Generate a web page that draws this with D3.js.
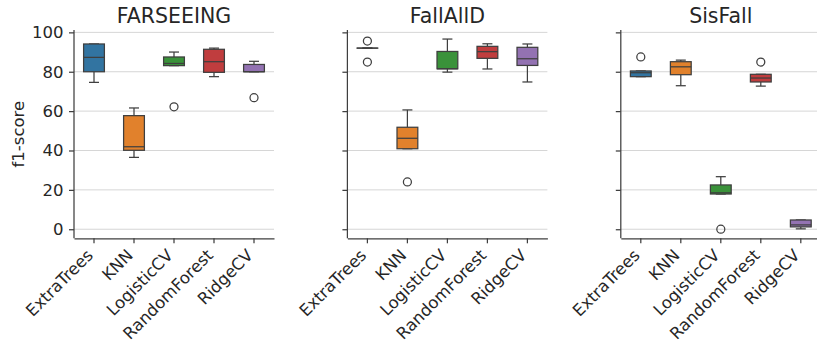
<!DOCTYPE html>
<html>
<head>
<meta charset="utf-8">
<script src="https://cdn.jsdelivr.net/npm/d3@7"></script>
<style>
  body { margin: 0; background: #fff; }
  svg { display: block; font-family: "DejaVu Sans", sans-serif; }
</style>
</head>
<body>
<svg id="chart"></svg>
<script>
// Chart size
const width = 817;
const height = 349;

// Data: per dataset, per model [whiskerLow, q1, median, q3, whiskerHigh]
const datasets = ["FARSEEING", "FallAllD", "SisFall"];
const models = ["ExtraTrees", "KNN", "LogisticCV", "RandomForest", "RidgeCV"];
const yTicks = [0, 20, 40, 60, 80, 100];

const farseeingStats = [
  [74.6, 80.0, 87.3, 94.1, 94.1],
  [36.5, 40.1, 41.9, 57.7, 61.6],
  [83.1, 83.1, 84.2, 87.5, 90.0],
  [77.5, 79.7, 85.1, 91.4, 92.0],
  [80.0, 80.0, 80.0, 83.7, 85.3]
];
const farseeingOutliers = [[], [], [62.2], [], [66.8]];

const fallalldStats = [
  [92.0, 92.0, 92.0, 92.0, 92.0],
  [40.9, 40.9, 46.2, 51.8, 60.6],
  [79.8, 81.5, 81.5, 90.3, 96.6],
  [81.4, 86.8, 90.2, 92.9, 94.2],
  [74.8, 83.2, 86.6, 92.4, 94.1]
];
const fallalldOutliers = [[95.6, 84.9], [24.0], [], [], []];

const sisfallStats = [
  [77.5, 77.5, 79.5, 80.4, 80.4],
  [72.9, 78.5, 82.5, 85.1, 85.9],
  [17.9, 17.9, 18.5, 22.5, 26.7],
  [72.7, 74.8, 76.8, 78.7, 78.7],
  [0.2, 1.2, 2.2, 4.7, 4.7]
];
const sisfallOutliers = [[87.5], [], [0.0], [84.9], []];

const allStats = [farseeingStats, fallalldStats, sisfallStats];
const allOutliers = [farseeingOutliers, fallalldOutliers, sisfallOutliers];

// Visual constants
const COLORS = ["#3274a1", "#e1812c", "#3a923a", "#c03d3e", "#9372b2"];
const LINE_COLOR = "#3f3f3f";
const TEXT_COLOR = "#262626";
const GRID_COLOR = "#d6d6d6";
const PANEL_LEFT = [74, 347.4, 620.8];
const PANEL_WIDTH = 200;
const TOP = 30;
const BOTTOM = 238.3;
const BOX_FRAC = 0.52;
const CAP_PX = 10;
const TICK_FONT = "16.5px";

const svg = d3.select("#chart")
  .attr("width", width)
  .attr("height", height)
  .attr("viewBox", [0, 0, width, height]);

const y = d3.scaleLinear()
  .domain([-4.6, 101.2])
  .range([BOTTOM, TOP]);

datasets.forEach((name, i) => {
  const x0 = PANEL_LEFT[i];
  const x = d3.scaleBand()
    .domain(models)
    .range([x0, x0 + PANEL_WIDTH]);
  const g = svg.append("g");

  // grid
  g.append("g")
    .selectAll("line")
    .data(yTicks)
    .join("line")
      .attr("x1", x0)
      .attr("x2", x0 + PANEL_WIDTH)
      .attr("y1", d => y(d))
      .attr("y2", d => y(d))
      .attr("stroke", GRID_COLOR)
      .attr("stroke-width", 1);

  // boxes
  const bw = x.bandwidth() * BOX_FRAC;
  const boxes = g.append("g")
    .selectAll("g")
    .data(models)
    .join("g")
      .attr("transform", d => `translate(${x(d) + x.bandwidth() / 2},0)`);

  boxes.each(function(m, j) {
    const s = allStats[i][j];
    const b = d3.select(this);
    // whiskers
    b.append("line").attr("y1", y(s[0])).attr("y2", y(s[1]))
      .attr("stroke", LINE_COLOR).attr("stroke-width", 1.25);
    b.append("line").attr("y1", y(s[3])).attr("y2", y(s[4]))
      .attr("stroke", LINE_COLOR).attr("stroke-width", 1.25);
    // caps
    [s[0], s[4]].forEach(v => {
      b.append("line")
        .attr("x1", -CAP_PX / 2).attr("x2", CAP_PX / 2)
        .attr("y1", y(v)).attr("y2", y(v))
        .attr("stroke", LINE_COLOR).attr("stroke-width", 1.25);
    });
    // box
    b.append("rect")
      .attr("x", -bw / 2)
      .attr("width", bw)
      .attr("y", y(s[3]))
      .attr("height", Math.max(0.01, y(s[1]) - y(s[3])))
      .attr("fill", COLORS[j])
      .attr("stroke", LINE_COLOR)
      .attr("stroke-width", 1.25);
    // median
    b.append("line")
      .attr("x1", -bw / 2).attr("x2", bw / 2)
      .attr("y1", y(s[2])).attr("y2", y(s[2]))
      .attr("stroke", LINE_COLOR).attr("stroke-width", 1.25);
    // outliers
    b.selectAll("circle")
      .data(allOutliers[i][j])
      .join("circle")
        .attr("cy", d => y(d))
        .attr("r", 4)
        .attr("fill", "none")
        .attr("stroke", LINE_COLOR)
        .attr("stroke-width", 1.25);
  });

  // y axis
  const yAxis = g.append("g")
    .attr("transform", `translate(${x0},0)`)
    .call(d3.axisLeft(y).tickValues(yTicks).tickSize(5).tickPadding(5.5)
      .tickFormat(i === 0 ? d3.format("d") : () => ""));
  yAxis.select(".domain").attr("d", `M0,${TOP}V${BOTTOM}`);

  // x axis
  const xAxis = g.append("g")
    .attr("transform", `translate(0,${BOTTOM})`)
    .call(d3.axisBottom(x).tickSize(5).tickSizeOuter(0));
  xAxis.selectAll(".tick text")
    .attr("text-anchor", "end")
    .attr("dy", null)
    .attr("y", 0)
    .attr("transform", "translate(0,18) rotate(-45)");

  [yAxis, xAxis].forEach(a => {
    a.selectAll(".domain").attr("stroke", LINE_COLOR).attr("stroke-width", 1.25);
    a.selectAll(".tick line").attr("stroke", LINE_COLOR).attr("stroke-width", 1.25);
    a.selectAll(".tick text")
      .attr("fill", TEXT_COLOR)
      .style("font-size", TICK_FONT)
      .style("font-family", "DejaVu Sans");
  });

  // title
  g.append("text")
    .attr("x", x0 + PANEL_WIDTH / 2)
    .attr("y", 22.7)
    .attr("text-anchor", "middle")
    .attr("fill", TEXT_COLOR)
    .style("font-size", "20.5px")
    .text(name);
});

// y label
svg.append("text")
  .attr("transform", `translate(24,${(TOP + BOTTOM) / 2}) rotate(-90)`)
  .attr("text-anchor", "middle")
  .attr("fill", TEXT_COLOR)
  .style("font-size", TICK_FONT)
  .text("f1-score");
</script>
</body>
</html>
